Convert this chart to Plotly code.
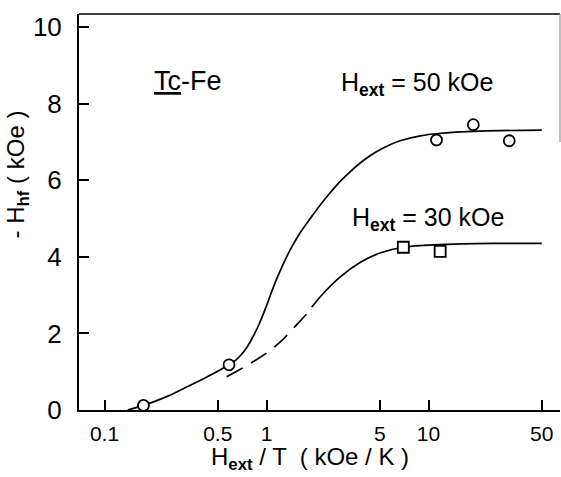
import math
import plotly.graph_objects as go

# ---- data ----
curve50_x = [0.139, 0.174, 0.242, 0.321, 0.428, 0.587, 0.646, 0.70, 0.741, 0.791, 0.891,
             1.0, 1.10, 1.21, 1.40, 1.61, 1.95, 2.35, 2.82, 3.28, 3.98, 4.79, 5.75, 6.67,
             8.91, 11.5, 20.8, 50]
curve50_y = [0.0, 0.12, 0.35, 0.6, 0.86, 1.18, 1.30, 1.45, 1.58, 1.77, 2.20,
             2.72, 3.20, 3.62, 4.18, 4.62, 5.12, 5.56, 5.95, 6.22, 6.52, 6.75, 6.92, 7.03,
             7.16, 7.22, 7.28, 7.31]

curve30_dash_x = [0.568, 0.791, 1.05, 1.24, 1.43, 1.77, 1.90]
curve30_dash_y = [0.87, 1.21, 1.55, 1.81, 2.09, 2.51, 2.68]

curve30_solid_x = [1.90, 2.14, 2.84, 3.78, 5.01, 6.96, 11.8, 25, 50]
curve30_solid_y = [2.68, 2.95, 3.47, 3.85, 4.10, 4.25, 4.32, 4.35, 4.35]

circles_x = [0.174, 0.587, 11.2, 18.9, 31.5]
circles_y = [0.12, 1.18, 7.05, 7.45, 7.03]

squares_x = [6.99, 11.8]
squares_y = [4.25, 4.14]

x_tick_vals = [0.1, 0.5, 1, 5, 10, 50]
x_tick_text = ["0.1", "0.5", "1", "5", "10", "50"]
y_tick_vals = [0, 2, 4, 6, 8, 10]
y_tick_text = ["0", "2", "4", "6", "8", "10"]

x_range = [math.log10(0.0696), math.log10(64.8)]
y_range = [0, 10.34]

FONT = "Liberation Sans, Arial, sans-serif"
LW = 1.7

fig = go.Figure()

fig.add_trace(go.Scatter(x=curve50_x, y=curve50_y, mode="lines",
                         line=dict(color="black", width=LW, shape="spline", smoothing=1.0),
                         showlegend=False, hoverinfo="skip"))
fig.add_trace(go.Scatter(x=curve30_dash_x, y=curve30_dash_y, mode="lines",
                         line=dict(color="black", width=LW, shape="spline", smoothing=1.0,
                                   dash="18px,10px"),
                         showlegend=False, hoverinfo="skip"))
fig.add_trace(go.Scatter(x=curve30_solid_x, y=curve30_solid_y, mode="lines",
                         line=dict(color="black", width=LW, shape="spline", smoothing=1.0),
                         showlegend=False, hoverinfo="skip"))
fig.add_trace(go.Scatter(x=circles_x, y=circles_y, mode="markers",
                         marker=dict(symbol="circle", size=11, color="white",
                                     line=dict(color="black", width=1.8)),
                         showlegend=False))
fig.add_trace(go.Scatter(x=squares_x, y=squares_y, mode="markers",
                         marker=dict(symbol="square", size=11, color="white",
                                     line=dict(color="black", width=1.8)),
                         showlegend=False))

fig.update_xaxes(type="log", range=x_range, tickvals=x_tick_vals, ticktext=x_tick_text,
                 ticks="inside", ticklen=10, tickwidth=1.5, tickcolor="black",
                 showline=True, linecolor="black", linewidth=2, mirror=False,
                 showgrid=False, zeroline=False, automargin=False,
                 tickfont=dict(family=FONT, size=21, color="black"),
                 ticklabelstandoff=4)
fig.update_yaxes(range=y_range, tickvals=y_tick_vals, ticktext=y_tick_text,
                 ticks="inside", ticklen=10, tickwidth=1.5, tickcolor="black",
                 showline=True, linecolor="black", linewidth=2,
                 showgrid=False, zeroline=False, automargin=False,
                 tickfont=dict(family=FONT, size=26, color="black"),
                 ticklabelstandoff=10)

# frame: top line and faint partial right edge
fig.add_shape(type="line", xref="paper", yref="paper", x0=0, x1=1, y0=1, y1=1,
              line=dict(color="black", width=1.5))
fig.add_shape(type="line", xref="paper", yref="y", x0=1, x1=1, y0=y_range[1], y1=7.0,
              line=dict(color="#aaaaaa", width=1.5))

annots = [
    dict(x=math.log10(0.196), y=8.6, text="<u>Tc</u>-Fe", xanchor="left", yanchor="middle",
         font=dict(family=FONT, size=27, color="black")),
    dict(x=math.log10(2.8), y=8.5, text="H<sub><b>ext</b></sub> = 50 kOe", xanchor="left",
         yanchor="middle", font=dict(family=FONT, size=25, color="black")),
    dict(x=math.log10(3.27), y=5.0, text="H<sub><b>ext</b></sub> = 30 kOe", xanchor="left",
         yanchor="middle", font=dict(family=FONT, size=25, color="black")),
]
for a in annots:
    fig.add_annotation(showarrow=False, xref="x", yref="y", **a)

# axis titles as annotations for precise placement
fig.add_annotation(xref="paper", yref="paper", x=(310 - 79) / 481, y=-(458 - 409.5) / 395.9,
                   text="H<sub><b>ext</b></sub> / T  ( kOe / K )", showarrow=False,
                   xanchor="center", yanchor="middle",
                   font=dict(family=FONT, size=24, color="black"))
fig.add_annotation(xref="paper", yref="paper", x=-(79 - 17) / 481, y=(409.5 - 174) / 395.9,
                   text="- H<sub><b>hf</b></sub> ( kOe )", textangle=-90, showarrow=False,
                   xanchor="center", yanchor="middle",
                   font=dict(family=FONT, size=24, color="black"))

fig.update_layout(width=561, height=477, autosize=False,
                  margin=dict(l=79, r=1, t=14, b=67, pad=0),
                  paper_bgcolor="white", plot_bgcolor="white")

fig.write_html("out.html", config={"displayModeBar": False},
               post_script="document.body.style.margin='0';document.body.style.overflow='hidden';")
